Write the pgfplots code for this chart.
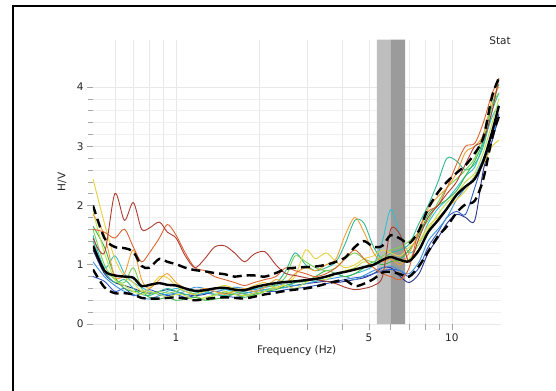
\documentclass[border=0pt]{standalone}
\usepackage{pgfplots}
\pgfplotsset{compat=1.18}
\usepackage{pgfplotstable}
\usepackage{fontspec}
\setmainfont{DejaVu Sans}
\definecolor{c1}{RGB}{40,50,140}
\definecolor{c2}{RGB}{50,90,200}
\definecolor{c3}{RGB}{60,150,220}
\definecolor{c4}{RGB}{50,190,210}
\definecolor{c5}{RGB}{50,185,150}
\definecolor{c6}{RGB}{60,180,70}
\definecolor{c7}{RGB}{120,210,80}
\definecolor{c8}{RGB}{190,225,70}
\definecolor{c9}{RGB}{235,210,60}
\definecolor{c10}{RGB}{240,160,50}
\definecolor{c11}{RGB}{220,100,50}
\definecolor{c12}{RGB}{175,60,50}
\definecolor{bandL}{RGB}{190,190,190}
\definecolor{bandD}{RGB}{155,155,155}
\pgfplotstableread{
f c1 c2 c3 c4 c5 c6 c7 c8 c9 c10 c11 c12 m u l
0.50 1.25 0.80 1.05 1.50 1.40 1.65 1.60 1.90 2.45 1.85 1.60 1.45 1.32 2.00 0.92
0.55 0.85 0.72 0.80 0.95 0.90 1.30 1.00 1.20 1.70 1.50 1.55 1.20 0.90 1.45 0.62
0.60 0.70 0.55 0.65 1.15 0.70 0.80 0.75 0.75 1.10 0.80 1.45 2.20 0.82 1.30 0.52
0.65 0.65 0.60 0.55 0.85 0.75 0.60 0.70 0.65 0.80 0.85 1.60 1.75 0.80 1.28 0.52
0.70 0.60 0.48 0.50 0.70 0.60 0.55 0.95 0.55 0.70 1.25 1.30 2.05 0.78 1.22 0.50
0.75 0.55 0.52 0.45 0.62 0.50 0.55 0.60 0.50 0.55 0.75 1.05 1.60 0.64 0.98 0.44
0.80 0.52 0.58 0.42 0.55 0.48 0.45 0.50 0.55 0.60 0.60 1.20 1.62 0.66 0.95 0.43
0.87 0.55 0.52 0.48 0.50 0.55 0.42 0.55 0.50 0.80 0.75 1.45 1.72 0.69 1.10 0.43
0.93 0.58 0.48 0.50 0.55 0.60 0.45 0.52 0.45 0.78 0.85 1.68 1.55 0.66 1.05 0.44
1.00 0.55 0.50 0.52 0.60 0.55 0.40 0.55 0.50 0.65 0.70 1.50 1.45 0.65 1.01 0.45
1.08 0.50 0.45 0.55 0.55 0.50 0.42 0.60 0.48 0.55 0.60 1.20 1.15 0.60 0.95 0.43
1.17 0.48 0.48 0.62 0.50 0.52 0.45 0.48 0.40 0.50 0.55 0.95 0.95 0.56 0.91 0.40
1.27 0.50 0.52 0.60 0.52 0.55 0.40 0.42 0.45 0.55 0.60 0.90 1.10 0.57 0.89 0.42
1.38 0.55 0.50 0.55 0.60 0.50 0.42 0.50 0.48 0.60 0.55 0.80 1.30 0.60 0.86 0.44
1.50 0.52 0.48 0.58 0.58 0.48 0.45 0.52 0.55 0.65 0.50 0.75 1.32 0.61 0.84 0.45
1.63 0.50 0.45 0.62 0.55 0.52 0.50 0.55 0.50 0.60 0.55 0.70 1.20 0.58 0.80 0.44
1.77 0.52 0.48 0.60 0.52 0.55 0.45 0.50 0.48 0.58 0.60 0.65 1.05 0.57 0.82 0.43
1.92 0.55 0.52 0.58 0.55 0.60 0.50 0.48 0.52 0.65 0.55 0.70 1.18 0.62 0.82 0.46
2.10 0.58 0.55 0.62 0.58 0.62 0.55 0.55 0.55 0.70 0.62 0.75 1.22 0.66 0.80 0.50
2.30 0.60 0.55 0.65 0.60 0.68 0.58 0.65 0.62 0.60 0.75 0.80 1.00 0.69 0.86 0.53
2.50 0.62 0.58 0.68 0.62 0.90 0.65 0.80 0.65 0.70 0.70 0.95 0.85 0.71 0.93 0.56
2.70 0.65 0.60 0.65 0.70 1.20 0.70 1.15 0.60 0.80 0.85 0.90 0.82 0.72 0.95 0.58
2.95 0.68 0.62 0.68 0.75 1.00 0.72 1.05 0.70 1.25 0.95 0.85 0.78 0.74 0.96 0.60
3.20 0.70 0.65 0.72 0.72 0.90 0.80 0.95 0.78 1.10 0.90 0.80 0.75 0.76 0.97 0.63
3.50 0.72 0.68 0.75 0.80 0.95 0.90 0.90 0.75 1.20 1.00 0.85 0.72 0.80 1.00 0.68
3.80 0.70 0.72 0.78 0.85 1.05 0.85 0.95 0.85 1.05 1.10 0.95 0.68 0.85 1.05 0.72
4.10 0.72 0.75 0.80 0.80 1.35 0.80 1.10 0.90 0.95 1.50 1.10 0.62 0.88 1.12 0.74
4.45 0.75 0.78 0.75 0.85 1.75 0.85 1.20 0.95 1.00 1.80 1.25 0.58 0.92 1.30 0.64
4.80 0.78 0.80 0.82 0.90 1.70 0.95 1.10 1.05 1.10 1.55 1.10 0.60 0.96 1.40 0.68
5.20 0.85 0.85 0.90 1.00 1.30 1.05 1.05 1.00 1.15 1.20 0.95 0.65 1.00 1.30 0.76
5.60 0.95 0.90 0.95 1.40 1.10 1.00 1.15 1.10 1.25 1.05 0.85 0.80 1.08 1.32 0.87
6.00 0.95 0.92 0.98 1.93 1.20 1.05 1.25 1.15 1.20 1.10 0.80 1.60 1.13 1.50 0.88
6.50 0.80 0.90 0.90 1.50 1.25 1.10 1.30 1.05 1.15 1.00 0.75 1.50 1.08 1.44 0.84
7.00 0.70 0.80 0.85 1.20 1.35 1.25 1.40 1.10 1.30 1.20 0.95 1.05 1.06 1.36 0.80
7.60 0.85 0.95 1.05 1.35 1.70 1.50 1.55 1.35 1.40 1.55 1.60 1.45 1.25 1.58 0.98
8.20 1.20 1.30 1.40 1.70 2.00 1.85 1.75 1.60 1.65 1.95 1.90 1.80 1.55 1.95 1.22
8.90 1.45 1.55 1.60 1.95 2.40 2.00 2.05 1.85 1.80 2.15 2.00 2.00 1.75 2.22 1.48
9.60 1.70 1.80 1.80 2.10 2.80 2.10 2.30 2.05 1.95 2.30 2.30 2.20 1.95 2.40 1.65
10.4 1.85 1.90 2.10 2.30 2.75 2.25 2.45 2.20 2.10 2.55 2.70 2.40 2.18 2.55 1.88
11.2 1.80 1.85 2.30 2.50 2.60 2.50 2.60 2.40 2.25 2.90 3.00 2.70 2.32 2.68 2.02
12.1 1.75 2.30 2.50 2.65 2.70 2.75 2.80 2.55 2.50 3.00 3.05 3.00 2.45 2.88 2.08
13.0 2.60 2.75 2.80 3.05 3.00 3.10 3.20 2.90 2.70 3.20 3.40 3.10 2.75 3.15 2.45
14.0 3.10 3.10 3.20 3.50 3.60 3.70 3.70 3.40 3.00 3.80 3.90 3.60 3.25 3.85 3.15
14.8 3.50 3.55 3.50 3.70 3.90 4.05 3.90 3.80 3.10 4.00 4.10 4.15 3.68 4.15 3.50
}\hvdata
\begin{document}
\begin{tikzpicture}
\useasboundingbox (0,0) rectangle (556bp,391bp);
\fill[white] (0,0) rectangle (556bp,391bp);
\begin{axis}[
  at={(93bp,67bp)}, anchor=south west,
  scale only axis, width=407.5bp, height=284.4bp,
  xmode=log, xmin=0.5, xmax=15, ymin=0, ymax=4.8,
  axis line style={draw=none},
  xtick={0.6,0.7,0.8,0.9,1,2,3,4,5,6,7,8,9,10},
  xticklabels={,,,,1,,,,5,,,,,10},
  xminorticks=false,
  ytick={0,1,2,3,4},
  minor y tick num=4,
  xtick pos=left, ytick pos=left,
  tick align=outside,
  major tick length=6bp, minor tick length=5bp,
  tick style={black!35, line width=0.6bp},
  xmajorgrids, ymajorgrids, yminorgrids,
  major grid style={black!9, line width=0.5bp},
  minor grid style={black!6, line width=0.5bp},
  ticklabel style={font=\fontsize{10.5bp}{12bp}\selectfont, text=black!85},
  /pgf/number format/assume math mode=true,
  xlabel={Frequency (Hz)}, ylabel={H/V},
  label style={font=\fontsize{10.5bp}{12bp}\selectfont, text=black!85},
  xlabel style={at={([yshift=-27bp]axis description cs:0.5,0)}, anchor=center},
  ylabel style={at={([xshift=-31bp]axis description cs:0,0.5)}, anchor=center},
  clip=true,
]
\addplot[draw=none, fill=bandL] coordinates {(5.35,0) (5.35,4.8) (6.01,4.8) (6.01,0)} \closedcycle;
\addplot[draw=none, fill=bandD] coordinates {(6.01,0) (6.01,4.8) (6.76,4.8) (6.76,0)} \closedcycle;
\addplot[c1, line width=0.9bp, smooth, tension=0.5] table[x=f, y=c1] {\hvdata};
\addplot[c2, line width=0.9bp, smooth, tension=0.5] table[x=f, y=c2] {\hvdata};
\addplot[c3, line width=0.9bp, smooth, tension=0.5] table[x=f, y=c3] {\hvdata};
\addplot[c4, line width=0.9bp, smooth, tension=0.5] table[x=f, y=c4] {\hvdata};
\addplot[c5, line width=0.9bp, smooth, tension=0.5] table[x=f, y=c5] {\hvdata};
\addplot[c6, line width=0.9bp, smooth, tension=0.5] table[x=f, y=c6] {\hvdata};
\addplot[c7, line width=0.9bp, smooth, tension=0.5] table[x=f, y=c7] {\hvdata};
\addplot[c8, line width=0.9bp, smooth, tension=0.5] table[x=f, y=c8] {\hvdata};
\addplot[c9, line width=0.9bp, smooth, tension=0.5] table[x=f, y=c9] {\hvdata};
\addplot[c10, line width=0.9bp, smooth, tension=0.5] table[x=f, y=c10] {\hvdata};
\addplot[c11, line width=0.9bp, smooth, tension=0.5] table[x=f, y=c11] {\hvdata};
\addplot[c12, line width=0.9bp, smooth, tension=0.5] table[x=f, y=c12] {\hvdata};
\addplot[black, line width=2.4bp, smooth, tension=0.5] table[x=f, y=m] {\hvdata};
\addplot[black, line width=2.4bp, smooth, tension=0.5, dash pattern=on 9bp off 5bp] table[x=f, y=u] {\hvdata};
\addplot[black, line width=2.4bp, smooth, tension=0.5, dash pattern=on 9bp off 5bp] table[x=f, y=l] {\hvdata};
\end{axis}
\node[font=\fontsize{10.5bp}{12bp}\selectfont, text=black!85] at (500bp,350bp) {Stat};
\draw[black, line width=2bp, line join=miter] (13bp,-10bp) -- (13bp,385bp) -- (570bp,385bp);
\end{tikzpicture}
\end{document}
